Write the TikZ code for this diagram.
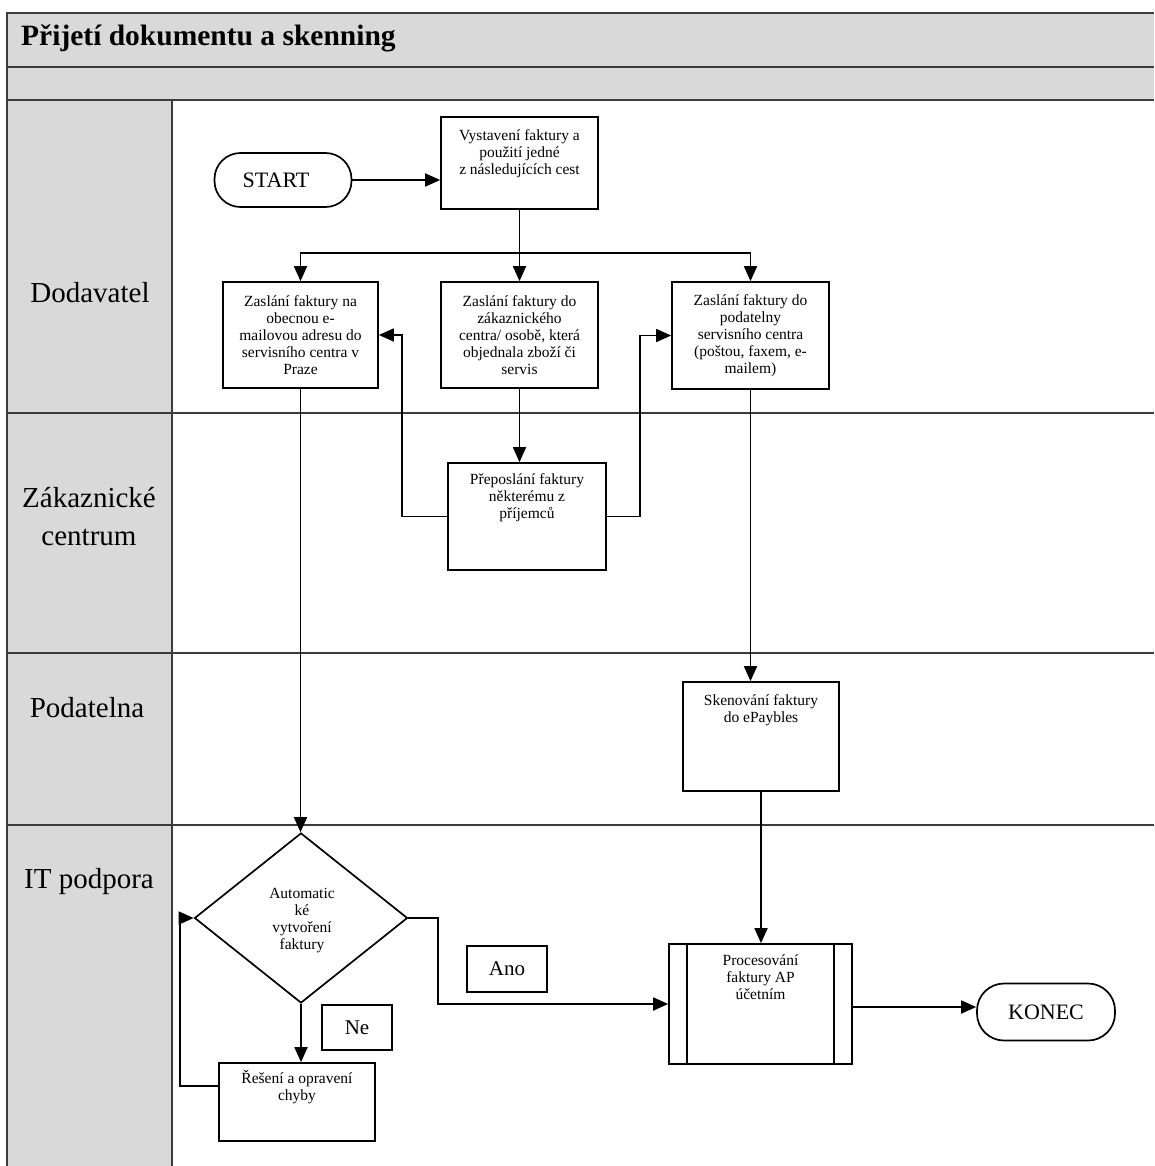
\documentclass[tikz,border=0pt]{standalone}
\usepackage{fontspec}
\setmainfont{Liberation Serif}
\usetikzlibrary{shapes.geometric,arrows.meta,calc}

\definecolor{bandgray}{RGB}{217,217,217}
\definecolor{framegray}{RGB}{60,60,60}

\begin{document}
\begin{tikzpicture}[x=1pt,y=-1pt,
  frame/.style={draw=framegray, line width=1.6pt},
  txt/.style={font=\fontsize{15.5}{17}\selectfont, align=center, inner sep=0pt},
  box/.style={draw, line width=1.7pt, fill=white, inner sep=0pt, txt},
  topbox/.style={box, label={[txt, anchor=north, yshift=-#1]north:\boxtext}},
  term/.style={draw, line width=1.7pt, fill=white, rectangle, rounded corners=26pt,
    font=\fontsize{22}{26}\selectfont, inner sep=0pt},
  tag/.style={draw, line width=1.7pt, fill=white, font=\fontsize{21}{24}\selectfont, inner sep=0pt},
  lane/.style={font=\fontsize{29}{38}\selectfont, align=center, inner sep=0pt},
  arr/.style={-{Triangle[length=15pt,width=13pt]}, line width=1.8pt},
]
\useasboundingbox (0,0) rectangle (1154,1166);

% swimlane frame
\fill[bandgray] (7,13) rectangle (1154,100);
\fill[bandgray] (7,100) rectangle (172,1166);
\draw[frame] (1154,13) -- (7,13) -- (7,1166);
\draw[frame] (7,67) -- (1154,67);
\draw[frame] (7,100) -- (1154,100);
\draw[frame] (7,413) -- (1154,413);
\draw[frame] (7,653) -- (1154,653);
\draw[frame] (7,825) -- (1154,825);
\draw[frame] (172,100) -- (172,1166);

\node[anchor=base west, font=\bfseries\fontsize{29.5}{34}\selectfont, inner sep=0pt] (title) at (21,46) {Přijetí dokumentu a skenning};

% lane labels
\node[lane] (lane1) at (90,293) {Dodavatel};
\node[lane] (lane2) at (89,517) {Zákaznické\\centrum};
\node[lane] (lane3) at (87,708) {Podatelna};
\node[lane] (lane4) at (89,882) {IT podpora};

% process steps
\node[term, minimum width=137pt, minimum height=54pt] (start) at (283,180) {\hspace*{-14pt}START};

\def\boxtext{Vystavení faktury a\\použití jedné\\z následujících cest}
\node[topbox=13pt, minimum width=157pt, minimum height=92pt] (vyst) at (519.5,163) {};

\node[box, minimum width=155pt, minimum height=106pt] (mail) at (300.5,335)
  {Zaslání faktury na\\obecnou e-\\mailovou adresu do\\servisního centra v\\Praze};
\node[box, minimum width=157pt, minimum height=106pt] (cust) at (519.5,335)
  {Zaslání faktury do\\zákaznického\\centra/ osobě, která\\objednala zboží či\\servis};
\node[box, minimum width=157pt, minimum height=107pt] (post) at (750.5,335.5)
  {Zaslání faktury do\\podatelny\\servisního centra\\(poštou, faxem, e-\\mailem)};

\def\boxtext{Přeposlání faktury\\některému z\\příjemců}
\node[topbox=11pt, minimum width=158pt, minimum height=107pt] (fwd) at (527,516.5) {};

\def\boxtext{Skenování faktury\\do ePaybles}
\node[topbox=13pt, minimum width=156pt, minimum height=109pt] (scan) at (761,736.5) {};

\node[diamond, draw, line width=1.7pt, fill=white, inner sep=0pt, aspect=1.25,
  minimum width=213pt, minimum height=170pt] (dec) at (301,918) {};
\node[txt] (dectext) at (302,921) {Automatic\\ké\\vytvoření\\faktury};

\def\boxtext{Řešení a opravení\\chyby}
\node[topbox=8pt, minimum width=156pt, minimum height=78pt] (fix) at (297,1102) {};

\def\boxtext{Procesování\\faktury AP\\účetním}
\node[topbox=11pt, minimum width=183pt, minimum height=120pt] (proc) at (760.5,1004) {};
\draw[line width=1.7pt] ([xshift=19pt]proc.north west) -- ([xshift=19pt]proc.south west);
\draw[line width=1.7pt] ([xshift=-19pt]proc.north east) -- ([xshift=-19pt]proc.south east);

\node[tag, minimum width=80pt, minimum height=46pt] (ano) at (507,969) {Ano};
\node[tag, minimum width=70pt, minimum height=45pt] (ne) at (357,1027.5) {Ne};

\node[term, rounded corners=27pt, minimum width=138pt, minimum height=57pt] (konec) at (1046,1012) {KONEC};

% connectors
\coordinate (split) at (519.5,253);
\draw[arr] (start.east) -- (start.east -| vyst.west);
\draw[arr] (vyst.south) -- (cust.north);
\draw[arr] (split) -| (mail.north);
\draw[arr] (split) -| (post.north);
\draw[arr] (cust.south) -- (cust.south |- fwd.north);
\draw[arr] (fwd.west) -- ++(-45,0) |- (mail.east);
\draw[arr] (fwd.east) -- ++(33,0) |- (post.west);
\draw[arr] (post.south) -- (post.south |- scan.north);
\draw[arr] (scan.south) -- (scan.south |- proc.north);
\draw[arr] (mail.south) -- (mail.south |- dec.north);
\draw[arr] (dec.south) -- (dec.south |- fix.north);
\draw[arr] ([yshift=16pt]fix.west) -- ++(-38,0) |- (dec.west);
\draw[arr] (dec.east) -- ++(30,0) |- (proc.west);
\draw[arr] ([yshift=-3pt]proc.east) -- ([yshift=-3pt]proc.east -| konec.west);
\end{tikzpicture}
\end{document}
